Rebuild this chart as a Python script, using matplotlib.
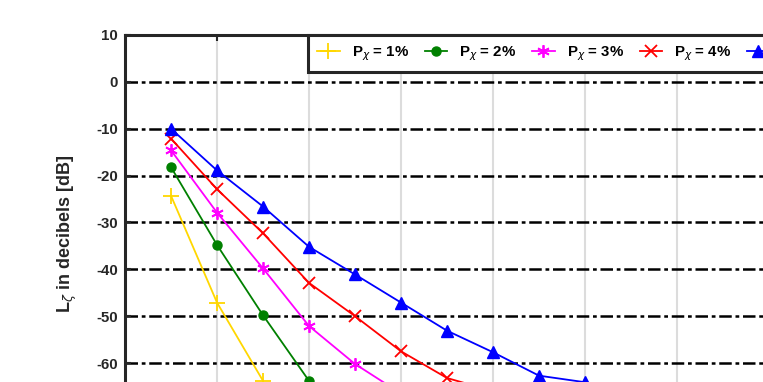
import numpy as np
import matplotlib
matplotlib.use('Agg')
import matplotlib.pyplot as plt

plt.rcParams['font.family'] = ['Liberation Sans', 'DejaVu Sans']
plt.rcParams['axes.unicode_minus'] = False

# data (x = step index)
x_yellow = [1, 2, 3]
y_yellow = [-24.3, -47.1, -63.8]
x_green = [1, 2, 3, 4]
y_green = [-18.2, -34.8, -49.8, -63.8]
x_magenta = [1, 2, 3, 4, 5, 6]
y_magenta = [-14.6, -27.9, -39.8, -52.1, -60.2, -66.5]
x_red = [1, 2, 3, 4, 5, 6, 7, 8]
y_red = [-12.1, -22.9, -32.3, -42.9, -50.0, -57.5, -63.2, -66.0]
x_blue = [1, 2, 3, 4, 5, 6, 7, 8, 9, 10]
y_blue = [-10.0, -18.9, -26.6, -35.2, -41.1, -47.1, -53.1, -57.7, -62.7, -64.1]
labels = ['1%', '2%', '3%', '4%', '5%']

W, H = 763, 382
fig = plt.figure(figsize=(W / 100, H / 100), dpi=100)

# axes is bigger than the figure: the reference is a crop
left_px, top_px = 125, 35
ppu_x, ppu_y = 46.0, 4.686
xlim = (0, 16)
ylim = (-75, 10)
w_px = (xlim[1] - xlim[0]) * ppu_x
h_px = (ylim[1] - ylim[0]) * ppu_y
ax = fig.add_axes([left_px / W, 1 - (top_px + h_px) / H, w_px / W, h_px / H])
ax.set_xlim(*xlim)
ax.set_ylim(*ylim)

ax.set_xticks(np.arange(2, 16, 2))
ax.set_yticks(np.arange(-60, 11, 10))
ax.xaxis.grid(True, color='#dcdcdc', linewidth=1.5)
ax.yaxis.grid(True, color='black', linewidth=1.8, linestyle=(0, (5, 1.5, 1.5, 1.5)))
ax.set_axisbelow(True)

for s in ax.spines.values():
    s.set_linewidth(2.2)
    s.set_color('#262626')
ax.tick_params(direction='in', top=True, right=True, length=4, width=1.5,
               labelsize=10.8, colors='#262626', pad=5, labelbottom=False)
for t in ax.get_yticklabels():
    t.set_fontweight('bold')

lw = 1.3
ax.plot(x_yellow, y_yellow, color='#ffd700', lw=lw, marker='+', ms=11, mew=1.3,
        label=r'P$_{\chi}$ = ' + labels[0])
ax.plot(x_green, y_green, color='#008000', lw=lw, marker='o', ms=6.5,
        label=r'P$_{\chi}$ = ' + labels[1])
ax.plot(x_magenta, y_magenta, color='#ff00ff', lw=lw, marker=(6, 2, 0), ms=9, mew=1.3,
        label=r'P$_{\chi}$ = ' + labels[2])
ax.plot(x_red, y_red, color='#ff0000', lw=lw, marker='x', ms=8, mew=1.3,
        label=r'P$_{\chi}$ = ' + labels[3])
ax.plot(x_blue, y_blue, color='#0000ff', lw=lw, marker='^', ms=8,
        label=r'P$_{\chi}$ = ' + labels[4])

ax.set_ylabel(r'L$_{\zeta}$ in decibels [dB]', fontsize=13, fontweight='bold',
              color='#262626')
ax.yaxis.set_label_coords((79 - left_px) / w_px, 0.5)

leg = ax.legend(loc='upper left', bbox_to_anchor=(308 / W, 1 - 35 / H),
                bbox_transform=fig.transFigure, ncol=5, frameon=True,
                fancybox=False, framealpha=1, edgecolor='#262626',
                borderaxespad=0, handlelength=1.5, handletextpad=0.8,
                columnspacing=1.05, borderpad=0.6,
                prop={'weight': 'bold', 'size': 10.8})
leg.get_frame().set_linewidth(2.2)

fig.savefig('out.png', dpi=100)
